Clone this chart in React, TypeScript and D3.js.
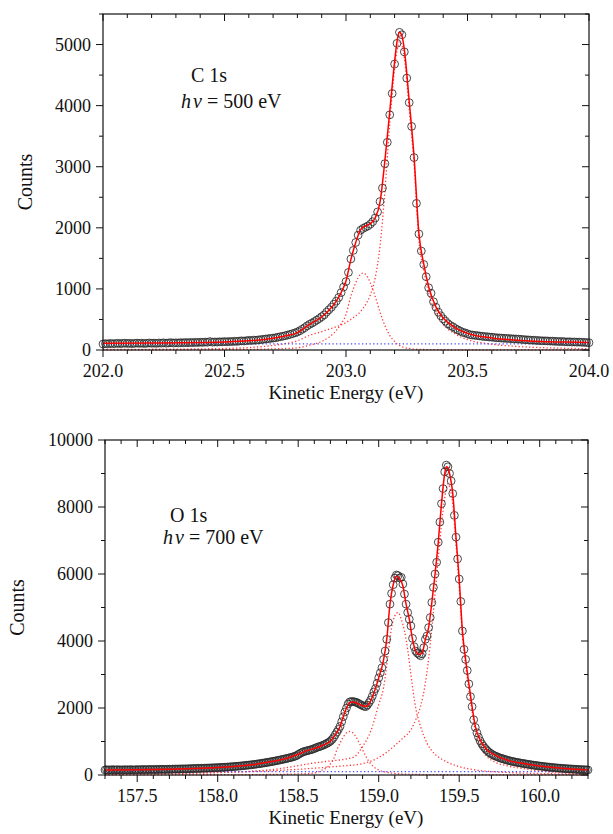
import React from "react";
import * as d3 from "d3";

// ---------------- C 1s panel (hv = 500 eV) ----------------
const cStartEnergy = 202.0;
const cEnergyStep = 0.01;
const cCounts = [
  98, 105, 100, 108, 102, 106, 110, 104, 108, 112,
  106, 110, 104, 109, 113, 108, 112, 106, 110, 115,
  110, 113, 108, 115, 112, 118, 111, 116, 120, 114,
  118, 115, 121, 117, 123, 118, 125, 120, 126, 122,
  128, 124, 130, 126, 138, 128, 132, 130, 135, 133,
  138, 134, 140, 137, 143, 140, 146, 150, 147, 152,
  158, 155, 162, 160, 166, 170, 175, 180, 185, 190,
  195, 200, 210, 218, 225, 235, 245, 255, 268, 280,
  295, 315, 340, 365, 395, 420, 440, 465, 490, 515,
  545, 575, 620, 660, 700, 750, 800, 860, 940, 1030,
  1120, 1270, 1490, 1630, 1760, 1880, 1960, 1990, 2010, 2030,
  2060, 2100, 2160, 2260, 2430, 2650, 3050, 3400, 3850, 4200,
  4680, 5020, 5200, 5160, 4880, 4450, 4050, 3660, 3150, 2400,
  1900, 1620, 1400, 1200, 1020, 930, 790, 700, 620, 560,
  510, 470, 430, 400, 380, 350, 330, 310, 290, 280,
  265, 250, 245, 240, 235, 230, 225, 220, 218, 212,
  210, 205, 200, 198, 195, 192, 190, 188, 185, 182,
  180, 178, 175, 170, 168, 165, 162, 160, 158, 155,
  153, 150, 150, 148, 145, 145, 142, 140, 138, 140,
  135, 133, 135, 130, 132, 128, 130, 126, 125, 122,
  120,
];
const cCompEnergy = [
  202.0, 202.2, 202.4, 202.5, 202.6, 202.7, 202.75, 202.8, 202.85, 202.9,
  202.93, 202.96, 202.98, 203.0, 203.02, 203.04, 203.06, 203.07, 203.08, 203.1,
  203.12, 203.14, 203.16, 203.18, 203.2, 203.21, 203.22, 203.23, 203.24, 203.26,
  203.28, 203.3, 203.32, 203.34, 203.37, 203.4, 203.45, 203.5, 203.6, 203.7,
  203.8, 203.9, 204.0,
];
const cMainPeak = [
  8, 12, 18, 25, 40, 75, 105, 150, 240, 300,
  340, 380, 410, 450, 500, 560, 630, 680, 740, 900,
  1180, 1700, 2600, 3700, 4600, 4900, 5050, 4990, 4780, 3950,
  3050, 1800, 1300, 930, 600, 420, 260, 170, 95, 60,
  40, 28, 20,
];
const cShoulderPeak = [
  2, 3, 5, 6, 10, 18, 25, 35, 80, 140,
  210, 320, 430, 580, 880, 1100, 1240, 1260, 1240, 1100,
  880, 620, 400, 240, 140, 100, 75, 55, 42, 25,
  15, 10, 8, 6, 5, 4, 3, 2, 2, 1,
  1, 1, 1,
];
const cFit = [
  110, 115, 123, 131, 150, 193, 230, 285, 420, 540,
  650, 800, 940, 1130, 1480, 1760, 1970, 2010, 2030, 2070,
  2160, 2420, 3100, 3900, 4720, 5050, 5200, 5145, 4922, 4075,
  3165, 1910, 1408, 1036, 705, 524, 363, 272, 197, 161,
  141, 129, 121,
];
const cBackgroundEnergy = [202.0, 204.0];
const cBackground = [100, 100];
const cXTicks = [202.0, 202.5, 203.0, 203.5, 204.0];
const cYTicks = [0, 1000, 2000, 3000, 4000, 5000];

// ---------------- O 1s panel (hv = 700 eV) ----------------
const oStartEnergy = 157.3;
const oEnergyStep = 0.01;
const oCounts = [
  150, 160, 145, 155, 150, 162, 148, 155, 158, 150,
  155, 148, 160, 152, 158, 150, 162, 155, 150, 158,
  160, 155, 162, 158, 165, 157, 163, 160, 166, 162,
  165, 160, 168, 163, 170, 166, 172, 168, 165, 172,
  175, 170, 178, 174, 180, 176, 182, 178, 185, 180,
  186, 182, 190, 186, 194, 190, 197, 193, 200, 198,
  203, 200, 207, 204, 210, 208, 214, 212, 218, 216,
  222, 220, 228, 226, 233, 232, 238, 240, 245, 248,
  252, 256, 260, 265, 268, 274, 278, 284, 290, 295,
  300, 306, 312, 318, 325, 332, 338, 346, 354, 362,
  370, 378, 386, 395, 404, 413, 422, 432, 442, 452,
  462, 473, 484, 495, 506, 518, 530, 545, 560, 580,
  610, 640, 665, 690, 705, 718, 730, 742, 755, 770,
  790, 810, 830, 845, 860, 880, 900, 925, 950, 975,
  1010, 1060, 1120, 1200, 1280, 1360, 1450, 1590, 1740, 1880,
  2000, 2120, 2180, 2195, 2190, 2185, 2170, 2150, 2120, 2095,
  2070, 2050, 2040, 2090, 2160, 2240, 2350, 2480, 2580, 2740,
  2900, 3050, 3200, 3450, 3700, 4050, 4550, 5100, 5420, 5680,
  5880, 5970, 5950, 5880, 5900, 5700, 5400, 5100, 4850, 4650,
  4450, 4080, 3830, 3700, 3640, 3600, 3560, 3620, 3800, 4050,
  4150, 4400, 4700, 5150, 5600, 6000, 6350, 6950, 7550, 8100,
  8550, 9050, 9250, 9200, 9000, 8780, 8400, 7750, 7100, 6450,
  5850, 5180, 4300, 3750, 3450, 3120, 2720, 2340, 2040, 1650,
  1420, 1260, 1130, 1020, 930, 860, 800, 750, 700, 660,
  630, 600, 575, 555, 535, 515, 500, 485, 470, 455,
  440, 428, 416, 405, 395, 385, 376, 367, 358, 350,
  342, 334, 326, 318, 310, 302, 295, 288, 281, 274,
  268, 262, 256, 250, 244, 239, 234, 229, 224, 219,
  214, 210, 206, 202, 198, 194, 190, 187, 184, 181,
  178, 175, 172, 169, 166, 163, 160, 158, 156, 154, 152,
];
const oPeak1Energy = [
  157.3, 158.0, 158.3, 158.5, 158.6, 158.65, 158.68, 158.7, 158.72, 158.74,
  158.76, 158.78, 158.8, 158.82, 158.84, 158.86, 158.88, 158.9, 158.92, 158.94,
  158.97, 159.0, 159.05, 159.1, 159.2, 159.4, 159.7, 160.3,
];
const oPeak1 = [
  3, 8, 15, 30, 60, 150, 230, 330, 480, 750,
  950, 1130, 1260, 1300, 1260, 1130, 950, 750, 560, 400,
  240, 150, 80, 45, 20, 8, 4, 2,
];
const oPeak2Energy = [
  157.3, 157.8, 158.0, 158.2, 158.4, 158.5, 158.6, 158.7, 158.8, 158.85,
  158.9, 158.95, 159.0, 159.03, 159.06, 159.08, 159.1, 159.12, 159.14, 159.16,
  159.18, 159.2, 159.23, 159.26, 159.3, 159.35, 159.4, 159.5, 159.6, 159.8,
  160.0, 160.3,
];
const oPeak2 = [
  25, 50, 70, 110, 200, 280, 360, 420, 480, 550,
  850, 1300, 2100, 2600, 3650, 4400, 4750, 4850, 4650, 4300,
  3750, 3000, 2000, 1450, 950, 620, 450, 250, 150, 75,
  45, 25,
];
const oPeak3Energy = [
  157.3, 157.8, 158.0, 158.3, 158.5, 158.7, 158.8, 158.9, 159.0, 159.05,
  159.1, 159.15, 159.2, 159.23, 159.26, 159.29, 159.32, 159.35, 159.38, 159.4,
  159.42, 159.43, 159.44, 159.46, 159.48, 159.5, 159.52, 159.54, 159.56, 159.58,
  159.6, 159.63, 159.67, 159.72, 159.8, 159.9, 160.0, 160.15, 160.3,
];
const oPeak3 = [
  35, 60, 80, 120, 170, 240, 280, 340, 520, 680,
  880, 1100, 1350, 1650, 2050, 2750, 3900, 5400, 7000, 7900,
  8550, 8700, 8600, 8100, 6900, 5600, 4150, 3250, 2550, 1900,
  1300, 850, 560, 390, 270, 190, 120, 70, 35,
];
const oFitEnergy = [
  157.3, 157.5, 157.7, 157.9, 158.0, 158.1, 158.2, 158.3, 158.4, 158.5,
  158.55, 158.6, 158.65, 158.7, 158.73, 158.76, 158.78, 158.8, 158.82, 158.84,
  158.87, 158.9, 158.92, 158.94, 158.97, 159.0, 159.03, 159.05, 159.07, 159.09,
  159.11, 159.13, 159.15, 159.17, 159.19, 159.21, 159.23, 159.25, 159.27, 159.29,
  159.31, 159.33, 159.35, 159.37, 159.39, 159.41, 159.42, 159.43, 159.44, 159.46,
  159.48, 159.5, 159.52, 159.54, 159.56, 159.58, 159.6, 159.63, 159.67, 159.72,
  159.8, 159.9, 160.0, 160.15, 160.3,
];
const oFit = [
  152, 158, 175, 205, 225, 255, 300, 370, 460, 620,
  720, 790, 880, 1010, 1200, 1450, 1740, 2000, 2160, 2180,
  2130, 2070, 2050, 2120, 2450, 2900, 3430, 4050, 5100, 5680,
  5930, 5850, 5650, 5100, 4650, 4050, 3700, 3600, 3650, 4050,
  4400, 5150, 6000, 6950, 8100, 9000, 9200, 9180, 9000, 8400,
  7100, 5850, 4300, 3450, 2720, 2040, 1450, 1050, 760, 600,
  440, 340, 268, 195, 152,
];
const oBackgroundEnergy = [157.3, 160.3];
const oBackground = [100, 100];
const oXTicks = [157.5, 158.0, 158.5, 159.0, 159.5, 160.0];
const oYTicks = [0, 2000, 4000, 6000, 8000, 10000];

const textStyle: React.CSSProperties = { fontFamily: "Liberation Serif" };

type Pt = [number, number];
const zip = (e: number[], v: number[]): Pt[] => e.map((x, i) => [x, v[i]]);

interface PanelProps {
  xDomain: [number, number];
  yDomain: [number, number];
  box: { l: number; r: number; t: number; b: number };
  xTicks: number[];
  yTicks: number[];
  yMinorStep: number;
  start: number;
  step: number;
  counts: number[];
  fit: Pt[];
  comps: Pt[][];
  background: Pt[];
  label: string;
  hvText: string;
  labelPos: { x: number; y: number };
  hvPos: { x: number; y: number };
  countsX: number;
}

function Panel(p: PanelProps) {
  const { box } = p;
  const x = d3.scaleLinear().domain(p.xDomain).range([box.l, box.r]);
  const y = d3.scaleLinear().domain(p.yDomain).range([box.b, box.t]);
  const line = d3
    .line<Pt>()
    .x((d) => x(d[0]))
    .y((d) => y(d[1]))
    .curve(d3.curveMonotoneX);

  const points: Pt[] = p.counts.map((c, i) => [p.start + i * p.step, c]);

  const nx = Math.round((p.xDomain[1] - p.xDomain[0]) / 0.1);
  const xTickVals = d3.range(nx + 1).map((i) => p.xDomain[0] + i * 0.1);
  const isMajorX = (v: number) => Math.abs(v * 2 - Math.round(v * 2)) < 1e-6;
  const ny = Math.round((p.yDomain[1] - p.yDomain[0]) / p.yMinorStep);
  const yTickVals = d3.range(ny + 1).map((i) => p.yDomain[0] + i * p.yMinorStep);
  const majorYStep = p.yTicks[1] - p.yTicks[0];
  const isMajorY = (v: number) => Math.abs(v / majorYStep - Math.round(v / majorYStep)) < 1e-6;

  const tickColor = "#111";
  const midY = (box.t + box.b) / 2;

  return (
    <g>
      {p.comps.map((c, i) => (
        <path
          key={"c" + i}
          d={line(c) || ""}
          fill="none"
          stroke="#ff3b3b"
          strokeWidth={1.3}
          strokeDasharray="1.3 2.2"
        />
      ))}
      <path
        d={line(p.background) || ""}
        fill="none"
        stroke="#4b4bff"
        strokeWidth={1.3}
        strokeDasharray="1.3 2.4"
      />
      {points.map((d, i) => (
        <circle
          key={"p" + i}
          cx={x(d[0])}
          cy={y(d[1])}
          r={3.9}
          fill="none"
          stroke="#2a2a2a"
          strokeOpacity={0.85}
          strokeWidth={1}
        />
      ))}
      <path d={line(p.fit) || ""} fill="none" stroke="#ff0000" strokeWidth={1.5} />

      <rect
        x={box.l}
        y={box.t}
        width={box.r - box.l}
        height={box.b - box.t}
        fill="none"
        stroke="#111"
        strokeWidth={1.2}
      />
      {xTickVals.map((v, i) => {
        const len = isMajorX(v) ? 7 : 4;
        const xx = x(v);
        return (
          <g key={"xt" + i}>
            <line x1={xx} x2={xx} y1={box.b} y2={box.b + len} stroke={tickColor} strokeWidth={1} />
            <line x1={xx} x2={xx} y1={box.t} y2={box.t + len} stroke={tickColor} strokeWidth={1} />
          </g>
        );
      })}
      {yTickVals.map((v, i) => {
        const len = isMajorY(v) ? 7 : 4;
        const yy = y(v);
        return (
          <g key={"yt" + i}>
            <line x1={box.l - len} x2={box.l} y1={yy} y2={yy} stroke={tickColor} strokeWidth={1} />
            <line x1={box.r - len} x2={box.r} y1={yy} y2={yy} stroke={tickColor} strokeWidth={1} />
          </g>
        );
      })}
      {p.xTicks.map((v, i) => (
        <text
          key={"xl" + i}
          x={x(v)}
          y={box.b + 27}
          textAnchor="middle"
          style={textStyle}
          fontSize={18}
          fill="#111"
        >
          {v.toFixed(1)}
        </text>
      ))}
      {p.yTicks.map((v, i) => (
        <text
          key={"yl" + i}
          x={box.l - 12}
          y={y(v)}
          dy="0.35em"
          textAnchor="end"
          style={textStyle}
          fontSize={18}
          fill="#111"
        >
          {v}
        </text>
      ))}
      <text
        x={346}
        y={box.b + 49}
        textAnchor="middle"
        style={textStyle}
        fontSize={19}
        fill="#111"
      >
        Kinetic Energy (eV)
      </text>
      <text
        x={p.countsX}
        y={midY}
        textAnchor="middle"
        dy="0.35em"
        transform={`rotate(-90, ${p.countsX}, ${midY})`}
        style={textStyle}
        fontSize={20}
        fill="#111"
      >
        Counts
      </text>
      <text x={p.labelPos.x} y={p.labelPos.y} style={textStyle} fontSize={20} fill="#111">
        {p.label}
      </text>
      <text x={p.hvPos.x} y={p.hvPos.y} style={textStyle} fontSize={20} fill="#111">
        <tspan fontStyle="italic">h</tspan>
        <tspan fontStyle="italic" dx={2}>ν</tspan>
        <tspan>{" = " + p.hvText}</tspan>
      </text>
    </g>
  );
}

export default function App() {
  return (
    <svg
      width={613}
      height={834}
      viewBox="0 0 613 834"
      style={{ position: "absolute", left: 0, top: 0, background: "#fff" }}
    >
      <rect x={0} y={0} width={613} height={834} fill="#fff" />
      <Panel
        xDomain={[202.0, 204.0]}
        yDomain={[0, 5500]}
        box={{ l: 103, r: 589, t: 14, b: 350 }}
        xTicks={cXTicks}
        yTicks={cYTicks}
        yMinorStep={500}
        start={cStartEnergy}
        step={cEnergyStep}
        counts={cCounts}
        fit={zip(cCompEnergy, cFit)}
        comps={[zip(cCompEnergy, cShoulderPeak), zip(cCompEnergy, cMainPeak)]}
        background={zip(cBackgroundEnergy, cBackground)}
        label="C 1s"
        hvText="500 eV"
        labelPos={{ x: 191, y: 82 }}
        hvPos={{ x: 181, y: 108 }}
        countsX={25}
      />
      <Panel
        xDomain={[157.3, 160.3]}
        yDomain={[0, 10000]}
        box={{ l: 105, r: 588, t: 440, b: 775 }}
        xTicks={oXTicks}
        yTicks={oYTicks}
        yMinorStep={1000}
        start={oStartEnergy}
        step={oEnergyStep}
        counts={oCounts}
        fit={zip(oFitEnergy, oFit)}
        comps={[zip(oPeak1Energy, oPeak1), zip(oPeak2Energy, oPeak2), zip(oPeak3Energy, oPeak3)]}
        background={zip(oBackgroundEnergy, oBackground)}
        label="O 1s"
        hvText="700 eV"
        labelPos={{ x: 170, y: 522 }}
        hvPos={{ x: 163, y: 544 }}
        countsX={17}
      />
    </svg>
  );
}
